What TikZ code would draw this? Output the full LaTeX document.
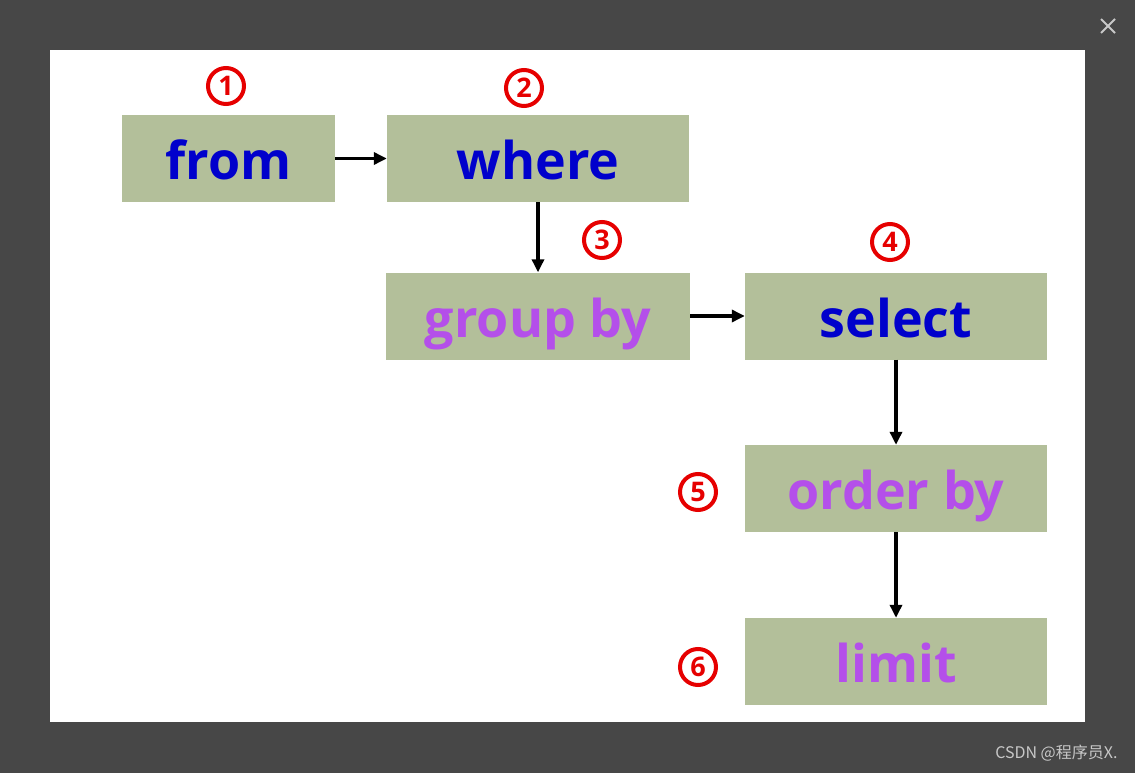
\documentclass[tikz,border=0pt]{standalone}
\usepackage{fontspec}
\setmainfont{Open Sans}
\newfontfamily\cjkfont{Noto Sans CJK SC}
\usetikzlibrary{arrows.meta,positioning}
\definecolor{backdrop}{HTML}{474747}
\definecolor{boxfill}{HTML}{B3BF9A}
\definecolor{kwblue}{HTML}{0000CC}
\definecolor{kwpurple}{HTML}{B44FEA}
\definecolor{numred}{HTML}{E60000}
\definecolor{chrome}{HTML}{C8C8C8}
\tikzset{
  clause/.style={fill=boxfill, text=#1, minimum height=87pt, inner sep=0pt,
                 text height=42pt, text depth=0pt,
                 font=\fontsize{52}{58}\selectfont\bfseries},
  flow/.style={-{Triangle[length=13pt,width=12pt]}, line width=3.8pt, draw=black},
  num/.style={circle, draw=numred, line width=4pt, minimum size=36pt, inner sep=0pt,
              text=numred, font=\fontsize{27}{27}\selectfont\bfseries}
}

\begin{document}
\begin{tikzpicture}[x=1pt, y=-1pt]
  % screen and viewer panel
  \fill[backdrop] (0,0) rectangle (1135,773);
  \fill[white] (50,50) rectangle (1085,722);
  \draw[chrome, line width=1.8pt] (1101,19) -- (1115,33) (1115,19) -- (1101,33);
  \node[anchor=east, text=chrome, font=\cjkfont\fontsize{16}{18}\selectfont] (mark)
    at (1121,753) {CSDN @程序员X.};

  % clauses
  \node[clause=kwblue, minimum width=213pt] (from) at (228.5,158.5) {from};
  \node[clause=kwblue, minimum width=302pt] (where) at (538,158.5) {where};
  \node[clause=kwpurple, minimum width=304pt] (groupby) at (538,316) {group by};
  \node[clause=kwblue, minimum width=302pt] (select) at (896,316) {select};
  \node[clause=kwpurple, minimum width=302pt] (orderby) at (896,488.5) {order by};
  \node[clause=kwpurple, minimum width=302pt] (limit) at (896,661.5) {limit};

  % execution order
  \node[num] (n1) at (226,86) {1};
  \node[num] (n2) at (524,88) {2};
  \node[num] (n3) at (602,240) {3};
  \node[num] (n4) at (890,242) {4};
  \node[num] (n5) at (698,492) {5};
  \node[num] (n6) at (698,667) {6};

  \draw[flow] (from) -- (where);
  \draw[flow] (where) -- (groupby);
  \draw[flow] (groupby) -- (select);
  \draw[flow] (select) -- (orderby);
  \draw[flow] (orderby) -- (limit);
\end{tikzpicture}
\end{document}
